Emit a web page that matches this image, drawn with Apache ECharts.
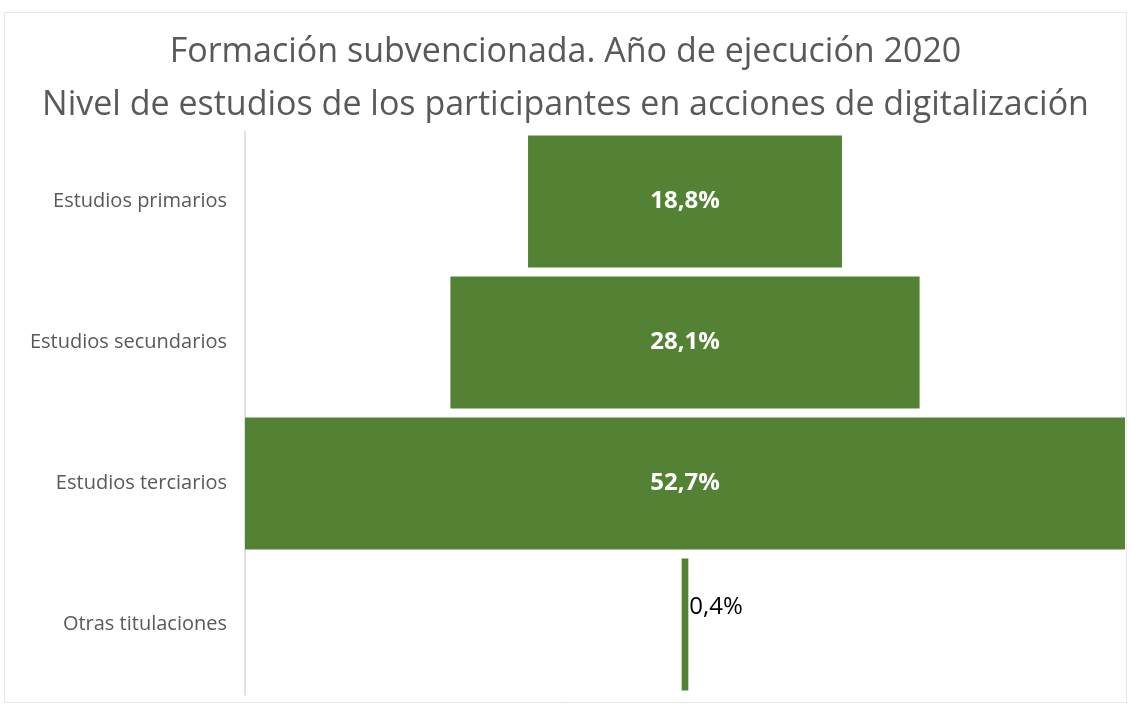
<!DOCTYPE html>
<html>
<head>
<meta charset="utf-8">
<script src="https://cdn.jsdelivr.net/npm/echarts@6/dist/echarts.min.js"></script>
<style>
html, body { margin: 0; padding: 0; background: #fff; }
#main { width: 1131px; height: 706px; }
</style>
</head>
<body>
<div id="main"></div>
<script>
var categories = ['Estudios primarios', 'Estudios secundarios', 'Estudios terciarios', 'Otras titulaciones'];
var values = [18.8, 28.1, 52.7, 0.4];
var maxValue = 52.7;

// transparent padding so each bar sits centred
var padding = values.map(function (v) { return (maxValue - v) / 2; });

var myChart = echarts.init(document.getElementById('main'));
myChart.setOption({
    animation: false,
    title: {
        text: 'Formación subvencionada. Año de ejecución 2020\nNivel de estudios de los participantes en acciones de digitalización',
        left: 'center',
        top: 21,
        textStyle: {
            fontFamily: 'Open Sans',
            fontWeight: 'normal',
            fontSize: 34,
            lineHeight: 53,
            color: '#595959'
        }
    },
    graphic: [{
        type: 'rect',
        shape: { x: 4.5, y: 12.5, width: 1122, height: 690 },
        style: { fill: 'none', stroke: '#e6e6e6', lineWidth: 1 },
        silent: true
    }],
    grid: { left: 245, right: 6, top: 131, bottom: 11 },
    xAxis: {
        type: 'value',
        min: 0,
        max: maxValue,
        show: false
    },
    yAxis: {
        type: 'category',
        data: categories,
        inverse: true,
        axisLine: { show: true, lineStyle: { color: '#d9d9d9', width: 1.5 } },
        axisTick: { show: false },
        axisLabel: {
            fontFamily: 'Open Sans',
            fontSize: 20,
            color: '#595959',
            margin: 18
        }
    },
    series: [
        {
            type: 'bar',
            stack: 'a',
            data: padding,
            itemStyle: { color: 'transparent' },
            barCategoryGap: '6.5%',
            silent: true
        },
        {
            type: 'bar',
            stack: 'a',
            data: values.map(function (v, i) {
                var item = { value: v };
                if (v < 5) {
                    item.label = {
                        position: 'right',
                        distance: 1,
                        offset: [0, -17],
                        color: '#000',
                        fontWeight: 'normal'
                    };
                }
                return item;
            }),
            itemStyle: { color: '#548235' },
            barCategoryGap: '6.5%',
            label: {
                show: true,
                position: 'inside',
                fontFamily: 'Open Sans',
                fontSize: 24,
                fontWeight: 'bold',
                color: '#ffffff',
                formatter: function (p) {
                    return p.value.toFixed(1).replace('.', ',') + '%';
                }
            }
        }
    ]
});
</script>
</body>
</html>
